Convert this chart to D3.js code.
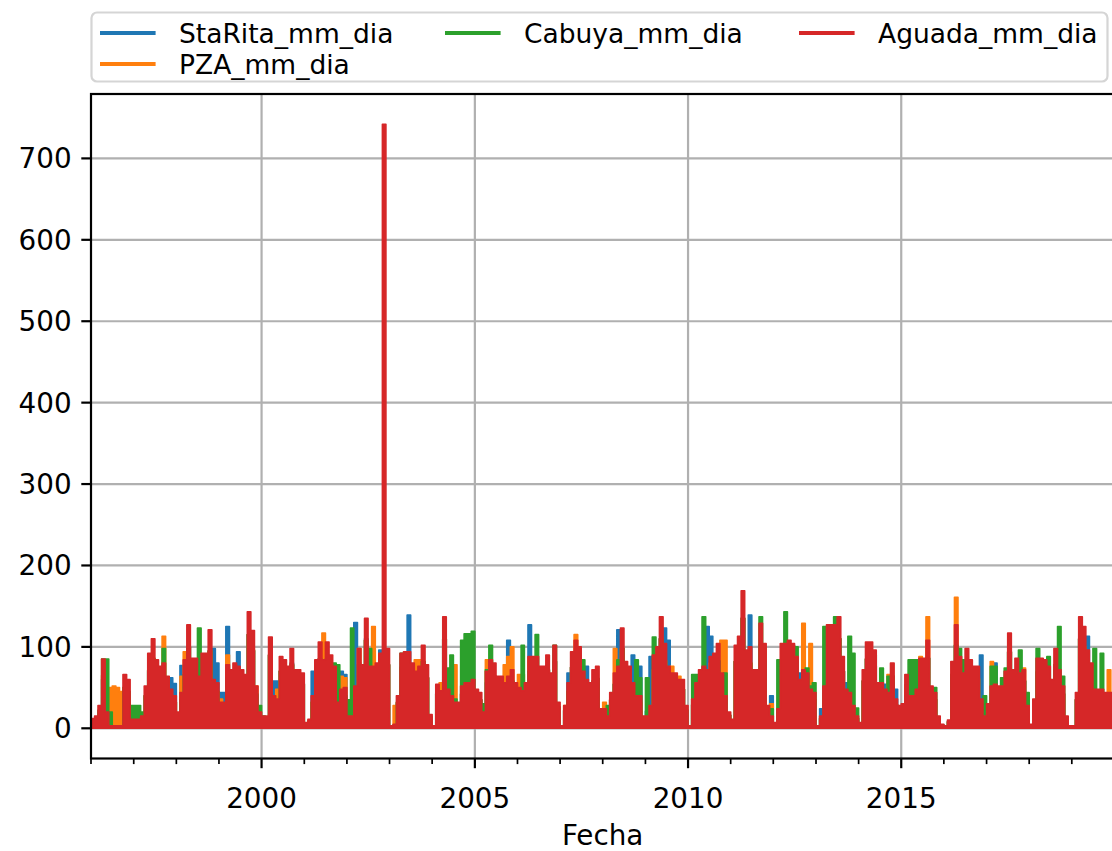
<!DOCTYPE html>
<html>
<head>
<meta charset="utf-8">
<script src="https://cdn.jsdelivr.net/npm/d3@7"></script>
<style>
  html, body { margin: 0; padding: 0; background: #ffffff; }
  svg { display: block; }
  text { font-family: "DejaVu Sans", sans-serif; fill: #000; }
</style>
</head>
<body>
<svg id="chart" width="1112" height="851"></svg>
<script>
// Monthly peak rainfall (mm/day) per station, Jan 1996 – Dec 2019, one row per year.
const staRitaMmDia = [
  8, 10, 20, 60, 15, 2, 2, 2, 2, 50, 45, 8,
  8, 8, 10, 40, 70, 85, 65, 60, 62, 50, 62, 55,
  15, 77, 65, 100, 70, 70, 50, 72, 75, 95, 98, 80,
  44, 44, 125, 60, 65, 94, 60, 55, 115, 95, 40, 15,
  12, 12, 90, 58, 58, 70, 65, 60, 80, 60, 58, 55,
  5, 8, 70, 65, 85, 70, 85, 72, 60, 25, 70, 66,
  12, 12, 130, 80, 62, 110, 60, 60, 65, 96, 90, 78,
  2, 4, 30, 75, 75, 139, 65, 56, 60, 82, 62, 14,
  2, 44, 38, 110, 38, 32, 26, 26, 42, 45, 45, 48,
  38, 35, 16, 56, 68, 64, 52, 52, 45, 108, 58, 45,
  40, 37, 45, 127, 70, 70, 60, 60, 72, 55, 82, 26,
  2, 22, 68, 75, 86, 80, 56, 76, 45, 58, 60, 19,
  19, 12, 35, 54, 121, 98, 66, 60, 90, 32, 76, 12,
  21, 88, 72, 80, 110, 123, 108, 55, 55, 48, 48, 22,
  2, 29, 45, 58, 61, 125, 113, 74, 83, 55, 32, 16,
  9, 82, 90, 135, 77, 139, 58, 58, 103, 83, 22, 40,
  6, 19, 83, 83, 86, 83, 70, 68, 58, 54, 38, 35,
  2, 24, 42, 102, 102, 102, 110, 70, 56, 35, 22, 12,
  6, 58, 85, 85, 77, 45, 45, 54, 35, 64, 48, 22,
  24, 53, 32, 32, 38, 69, 69, 86, 42, 35, 12, 4,
  2, 8, 66, 102, 70, 54, 78, 67, 61, 61, 90, 12,
  24, 42, 80, 42, 42, 56, 94, 58, 69, 54, 58, 22,
  4, 29, 69, 69, 67, 61, 48, 78, 58, 42, 12, 2,
  2, 35, 110, 100, 113, 76, 38, 38, 38, 35, 35, 35
];

const pzaMmDia = [
  9, 11, 22, 65, 15, 50, 52, 50, 45, 50, 45, 8,
  8, 8, 11, 40, 72, 86, 66, 60, 113, 50, 38, 32,
  16, 64, 94, 100, 68, 68, 50, 70, 72, 95, 48, 45,
  36, 25, 90, 58, 64, 60, 58, 53, 115, 96, 52, 16,
  12, 12, 90, 32, 48, 70, 67, 61, 78, 58, 58, 54,
  6, 9, 32, 67, 85, 117, 85, 72, 61, 26, 64, 62,
  12, 12, 42, 98, 62, 108, 61, 125, 64, 74, 90, 78,
  2, 28, 32, 74, 75, 75, 64, 84, 84, 82, 62, 14,
  2, 43, 56, 110, 38, 32, 78, 26, 42, 45, 45, 48,
  38, 35, 16, 84, 67, 64, 51, 51, 78, 88, 100, 45,
  66, 66, 45, 86, 70, 70, 61, 61, 72, 54, 82, 26,
  2, 28, 45, 75, 115, 80, 56, 48, 45, 58, 61, 19,
  32, 12, 36, 98, 61, 98, 66, 61, 45, 32, 32, 12,
  12, 22, 72, 80, 110, 83, 61, 76, 54, 64, 48, 22,
  2, 29, 45, 58, 61, 58, 80, 74, 83, 108, 108, 16,
  9, 82, 90, 135, 77, 80, 58, 58, 103, 100, 22, 30,
  6, 19, 83, 83, 86, 83, 70, 48, 129, 54, 104, 35,
  2, 12, 42, 102, 102, 102, 110, 70, 38, 35, 22, 12,
  6, 58, 85, 85, 77, 45, 45, 40, 66, 64, 29, 22,
  24, 53, 44, 32, 38, 88, 69, 137, 42, 35, 12, 4,
  2, 8, 66, 161, 70, 54, 78, 67, 61, 61, 29, 12,
  24, 82, 43, 42, 42, 56, 94, 58, 69, 54, 74, 22,
  4, 29, 69, 69, 67, 61, 48, 78, 58, 42, 12, 2,
  2, 35, 110, 100, 77, 64, 38, 38, 38, 35, 72, 35
];

const cabuyaMmDia = [
  9, 11, 22, 85, 85, 20, 2, 2, 2, 50, 45, 28,
  28, 28, 20, 40, 72, 86, 66, 60, 98, 50, 38, 32,
  16, 35, 66, 100, 68, 68, 123, 72, 72, 95, 48, 45,
  25, 25, 62, 58, 64, 60, 58, 53, 115, 96, 42, 28,
  15, 12, 90, 32, 29, 70, 67, 61, 78, 58, 58, 54,
  6, 9, 32, 67, 85, 67, 85, 72, 80, 78, 38, 40,
  35, 123, 42, 78, 62, 108, 98, 61, 64, 74, 90, 78,
  2, 4, 32, 92, 75, 75, 64, 56, 61, 82, 62, 14,
  2, 43, 37, 110, 74, 90, 36, 26, 108, 116, 116, 119,
  38, 35, 30, 72, 102, 64, 51, 51, 45, 51, 58, 45,
  40, 102, 45, 70, 70, 115, 61, 61, 72, 54, 102, 26,
  2, 22, 45, 75, 86, 80, 84, 48, 45, 58, 61, 19,
  19, 28, 35, 54, 84, 98, 66, 61, 45, 84, 62, 12,
  62, 22, 112, 80, 110, 83, 61, 54, 54, 48, 48, 22,
  2, 66, 66, 58, 137, 58, 70, 74, 83, 54, 68, 16,
  9, 82, 90, 135, 77, 80, 58, 58, 137, 83, 22, 24,
  6, 84, 83, 143, 86, 102, 100, 48, 58, 74, 52, 56,
  2, 12, 125, 102, 102, 137, 110, 70, 38, 113, 92, 25,
  6, 58, 85, 85, 90, 45, 74, 35, 64, 64, 29, 22,
  24, 40, 84, 84, 84, 69, 69, 86, 42, 50, 12, 4,
  2, 8, 66, 102, 98, 84, 78, 67, 72, 61, 29, 40,
  24, 76, 76, 42, 62, 74, 94, 58, 69, 96, 58, 44,
  4, 29, 98, 69, 67, 88, 48, 78, 125, 64, 12, 2,
  2, 35, 110, 100, 77, 64, 98, 38, 92, 35, 35, 35
];

const aguadaMmDia = [
  12, 15, 28, 85, 20, 3, 3, 3, 3, 66, 60, 11,
  11, 11, 15, 52, 92, 110, 84, 76, 80, 64, 48, 40,
  20, 44, 84, 127, 86, 86, 64, 92, 92, 121, 60, 56,
  32, 32, 78, 72, 80, 76, 72, 66, 143, 120, 52, 20,
  15, 15, 112, 40, 36, 88, 84, 76, 98, 72, 72, 68,
  7, 11, 40, 84, 106, 84, 106, 90, 76, 32, 48, 50,
  15, 15, 52, 98, 78, 135, 76, 76, 80, 92, 742, 98,
  3, 5, 40, 92, 94, 94, 80, 70, 76, 102, 78, 17,
  3, 54, 46, 137, 48, 40, 32, 32, 52, 56, 56, 60,
  48, 44, 20, 70, 84, 80, 64, 64, 56, 64, 72, 56,
  50, 46, 56, 88, 88, 88, 76, 76, 90, 68, 102, 32,
  3, 28, 56, 94, 108, 100, 70, 60, 56, 72, 76, 24,
  24, 15, 44, 68, 76, 123, 82, 76, 56, 40, 40, 15,
  15, 28, 90, 100, 137, 104, 76, 68, 68, 60, 60, 28,
  3, 36, 56, 72, 76, 72, 88, 92, 104, 68, 40, 20,
  11, 102, 113, 169, 96, 100, 72, 72, 129, 104, 28, 15,
  7, 24, 104, 104, 108, 104, 88, 60, 72, 68, 48, 44,
  3, 15, 52, 127, 127, 127, 137, 88, 48, 44, 28, 15,
  7, 72, 106, 106, 96, 56, 56, 48, 44, 80, 36, 28,
  30, 66, 40, 40, 48, 86, 86, 108, 52, 44, 15, 5,
  3, 10, 82, 127, 88, 68, 98, 84, 76, 76, 36, 15,
  30, 52, 54, 52, 52, 70, 117, 72, 86, 68, 72, 28,
  5, 36, 86, 86, 84, 76, 60, 98, 72, 52, 15, 3,
  3, 44, 137, 125, 96, 80, 48, 48, 48, 44, 44, 44
];

const seriesNames = ["StaRita_mm_dia", "PZA_mm_dia", "Cabuya_mm_dia", "Aguada_mm_dia"];
const seriesColors = ["#1f77b4", "#ff7f0e", "#2ca02c", "#d62728"];
const seriesValues = [staRitaMmDia, pzaMmDia, cabuyaMmDia, aguadaMmDia];

const yTickValues = [0, 100, 200, 300, 400, 500, 600, 700];
const xMajorYears = [2000, 2005, 2010, 2015];
const firstYear = 1996;
const lastYear = 2019;
const xLabel = "Fecha";

// ---- layout ----
const svg = d3.select("#chart");
const fontPx = 27.8;
const legendFontPx = 26.5;
const plot = { left: 91, top: 94, right: 1114.3, bottom: 758.5 };

const startDate = new Date(Date.UTC(firstYear, 0, 1));
const endDate = new Date(Date.UTC(lastYear, 11, 31));

const x = d3.scaleUtc().domain([startDate, endDate]).range([plot.left, plot.right]);

const allValues = seriesValues.flat();
const vMin = Math.min(0, d3.min(allValues));
const vMax = d3.max(allValues);
const pad = (vMax - vMin) * 0.05;
const y = d3.scaleLinear().domain([vMin - pad, vMax + pad]).range([plot.bottom, plot.top]);

// monthly points for one series, closed at the end of the time range
function toPoints(values) {
  const pts = values.map((v, i) => ({
    t: new Date(Date.UTC(firstYear + Math.floor(i / 12), i % 12, 1)),
    v: v
  }));
  pts.push({ t: new Date(Date.UTC(lastYear + 1, 0, 1)), v: values[values.length - 1] });
  return pts;
}

svg.append("defs").append("clipPath").attr("id", "plotClip")
  .append("rect")
  .attr("x", plot.left).attr("y", plot.top)
  .attr("width", plot.right - plot.left).attr("height", plot.bottom - plot.top);

// ---- grid ----
const grid = svg.append("g").attr("stroke", "#b0b0b0").attr("stroke-width", 2.2);
xMajorYears.forEach(yr => {
  const px = x(new Date(Date.UTC(yr, 0, 1)));
  grid.append("line").attr("x1", px).attr("x2", px).attr("y1", plot.top).attr("y2", plot.bottom);
});
yTickValues.forEach(v => {
  grid.append("line").attr("x1", plot.left).attr("x2", plot.right).attr("y1", y(v)).attr("y2", y(v));
});

// ---- series ----
const area = d3.area()
  .x(d => x(d.t))
  .y0(y(0))
  .y1(d => y(d.v))
  .curve(d3.curveStepAfter);

const dataLayer = svg.append("g").attr("clip-path", "url(#plotClip)");
seriesValues.forEach((vals, i) => {
  dataLayer.append("path")
    .datum(toPoints(vals))
    .attr("d", area)
    .attr("fill", seriesColors[i])
    .attr("stroke", seriesColors[i])
    .attr("stroke-width", 1.6)
    .attr("stroke-linejoin", "round");
});

// ---- spines ----
const spines = svg.append("g").attr("stroke", "#000").attr("stroke-width", 2.2).attr("fill", "none");
spines.append("rect")
  .attr("x", plot.left).attr("y", plot.top)
  .attr("width", plot.right - plot.left).attr("height", plot.bottom - plot.top);

// ---- y axis ----
const yAxis = svg.append("g");
yTickValues.forEach(v => {
  yAxis.append("line")
    .attr("x1", plot.left - 9.7).attr("x2", plot.left)
    .attr("y1", y(v)).attr("y2", y(v))
    .attr("stroke", "#000").attr("stroke-width", 2.2);
  yAxis.append("text")
    .attr("x", plot.left - 19.4).attr("y", y(v))
    .attr("dy", "0.36em")
    .attr("text-anchor", "end")
    .style("font-size", fontPx + "px")
    .text(d3.format("d")(v));
});

// ---- x axis ----
const xAxis = svg.append("g");
d3.range(firstYear, lastYear + 1).forEach(yr => {
  const major = xMajorYears.includes(yr);
  const px = x(new Date(Date.UTC(yr, 0, 1)));
  xAxis.append("line")
    .attr("x1", px).attr("x2", px)
    .attr("y1", plot.bottom).attr("y2", plot.bottom + (major ? 9.7 : 5.6))
    .attr("stroke", "#000").attr("stroke-width", major ? 2.2 : 1.7);
  if (major) {
    xAxis.append("text")
      .attr("x", px).attr("y", 807.5)
      .attr("text-anchor", "middle")
      .style("font-size", fontPx + "px")
      .text(yr);
  }
});
svg.append("text")
  .attr("x", (plot.left + plot.right) / 2).attr("y", 845)
  .attr("text-anchor", "middle")
  .style("font-size", fontPx + "px")
  .text(xLabel);

// ---- legend (3 columns above the plot) ----
const legend = svg.append("g");
legend.append("rect")
  .attr("x", 91.5).attr("y", 12.5)
  .attr("width", 1016).attr("height", 69)
  .attr("rx", 5.5).attr("ry", 5.5)
  .attr("fill", "#ffffff").attr("fill-opacity", 0.8)
  .attr("stroke", "#d5d5d5").attr("stroke-width", 2.2);

const colX = [100, 445, 799];
const rowY = [33, 64];
seriesNames.forEach((name, i) => {
  const col = i < 2 ? 0 : i - 1;
  const row = i === 1 ? 1 : 0;
  const hx = colX[col], hy = rowY[row];
  legend.append("line")
    .attr("x1", hx).attr("x2", hx + 55.6)
    .attr("y1", hy).attr("y2", hy)
    .attr("stroke", seriesColors[i]).attr("stroke-width", 4.2);
  legend.append("text")
    .attr("x", hx + 79).attr("y", hy)
    .attr("dy", "0.36em")
    .style("font-size", legendFontPx + "px")
    .text(name);
});
</script>
</body>
</html>
